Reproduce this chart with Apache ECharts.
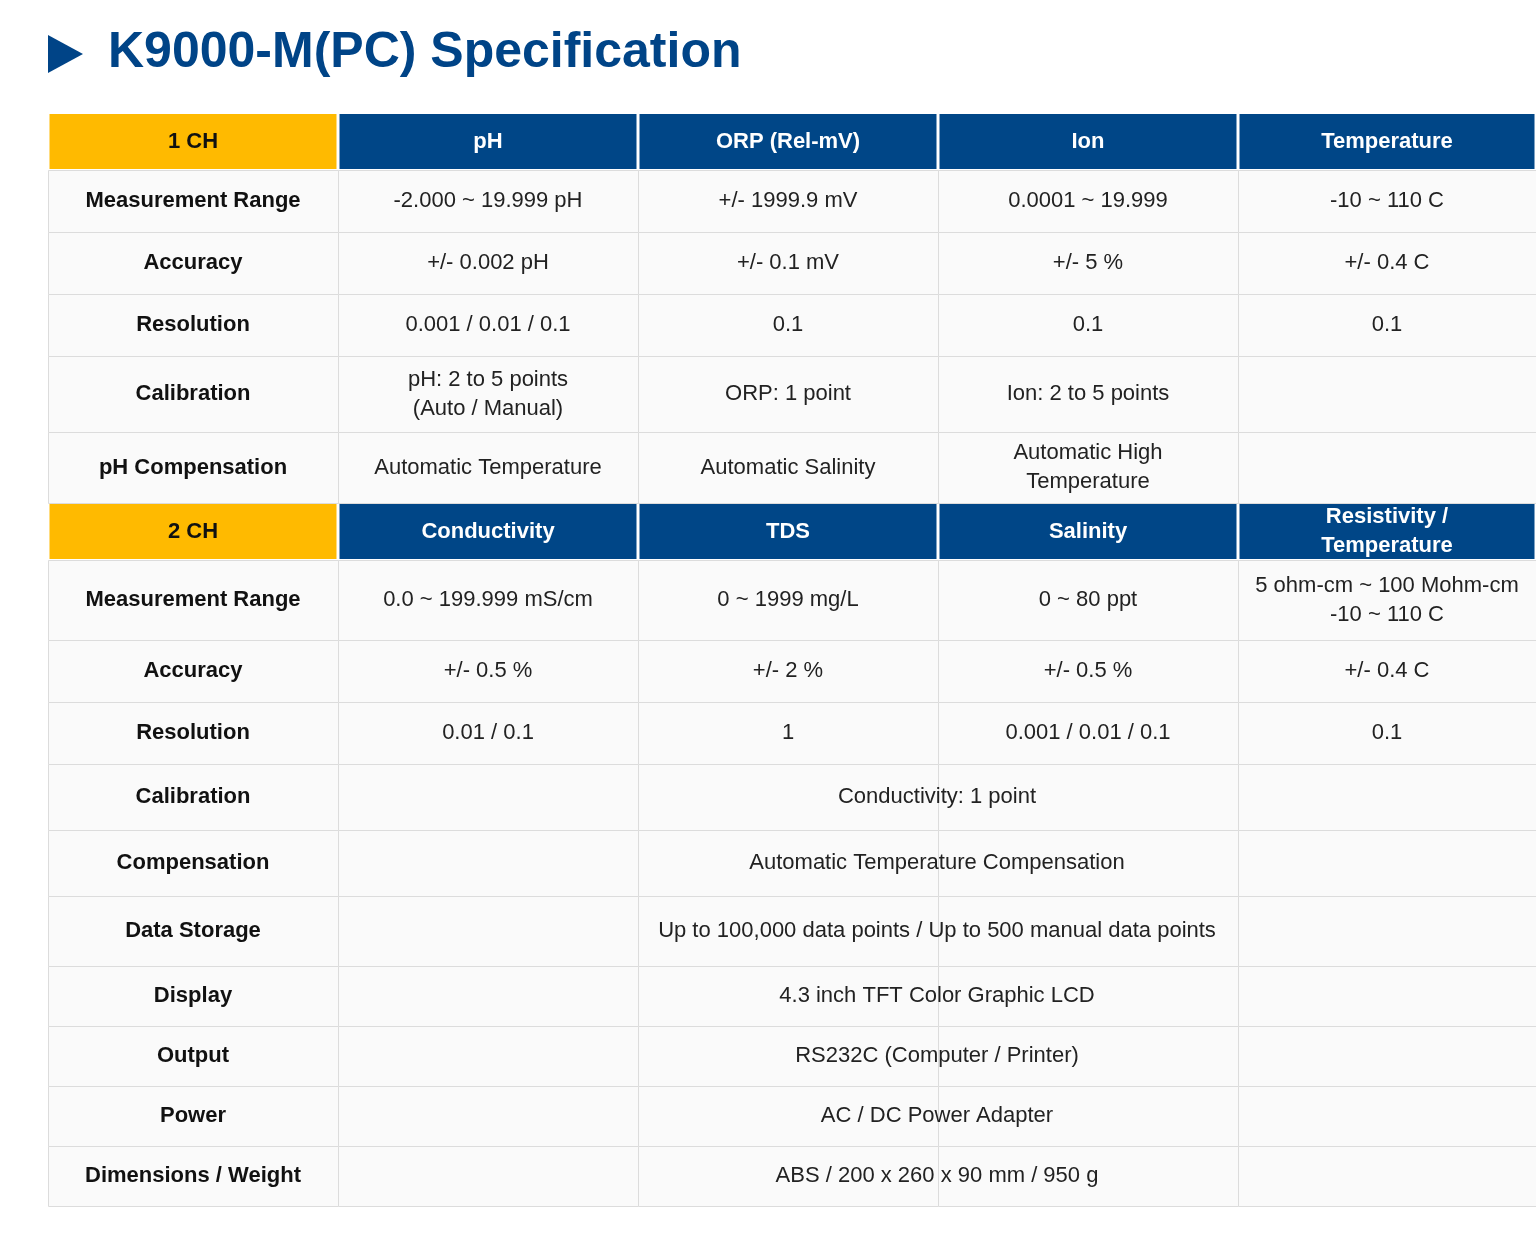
<!DOCTYPE html>
<html><head><meta charset="utf-8">
<script src="https://cdn.jsdelivr.net/npm/echarts@6/dist/echarts.min.js"></script>
<style>html,body{margin:0;padding:0;background:#fff}#c{width:1536px;height:1236px}</style>
</head><body><div id="c"></div>
<script>
const title = 'K9000-M(PC) Specification';
const header1 = ['1 CH', 'pH', 'ORP (Rel-mV)', 'Ion', 'Temperature'];
const rows1 = [
  ['Measurement Range', '-2.000 ~ 19.999 pH', '+/- 1999.9 mV', '0.0001 ~ 19.999', '-10 ~ 110 C'],
  ['Accuracy', '+/- 0.002 pH', '+/- 0.1 mV', '+/- 5 %', '+/- 0.4 C'],
  ['Resolution', '0.001 / 0.01 / 0.1', '0.1', '0.1', '0.1'],
  ['Calibration', 'pH: 2 to 5 points\n(Auto / Manual)', 'ORP: 1 point', 'Ion: 2 to 5 points', ''],
  ['pH Compensation', 'Automatic Temperature', 'Automatic Salinity', 'Automatic High\nTemperature', '']
];
const header2 = ['2 CH', 'Conductivity', 'TDS', 'Salinity', 'Resistivity /\nTemperature'];
const rows2 = [
  ['Measurement Range', '0.0 ~ 199.999 mS/cm', '0 ~ 1999 mg/L', '0 ~ 80 ppt', '5 ohm-cm ~ 100 Mohm-cm\n-10 ~ 110 C'],
  ['Accuracy', '+/- 0.5 %', '+/- 2 %', '+/- 0.5 %', '+/- 0.4 C'],
  ['Resolution', '0.01 / 0.1', '1', '0.001 / 0.01 / 0.1', '0.1'],
  ['Calibration', 'Conductivity: 1 point'],
  ['Compensation', 'Automatic Temperature Compensation'],
  ['Data Storage', 'Up to 100,000 data points / Up to 500 manual data points'],
  ['Display', '4.3 inch TFT Color Graphic LCD'],
  ['Output', 'RS232C (Computer / Printer)'],
  ['Power', 'AC / DC Power Adapter'],
  ['Dimensions / Weight', 'ABS / 200 x 260 x 90 mm / 950 g']
];

// layout (separate from data)
const tableLeft = 48, tableTop = 113;
const colWidths = [290, 300, 300, 300, 298];
const rowHeights1 = [57, 62, 62, 62, 76, 71];
const rowHeights2 = [57, 80, 62, 62, 66, 66, 70, 60, 60, 60, 60];

const colX = [tableLeft];
colWidths.forEach(w => colX.push(colX[colX.length - 1] + w));
const cells = [];
let y = tableTop;
function addBlock(header, rows, heights) {
  header.forEach((t, i) => cells.push([colX[i], y, colX[i + 1], y + heights[0], t, i === 0 ? 'hk' : 'hb']));
  y += heights[0];
  rows.forEach((r, ri) => {
    const h = heights[ri + 1];
    cells.push([colX[0], y, colX[1], y + h, r[0], 'lab']);
    for (let i = 1; i < 5; i++) {
      const span = r.length === 2;
      cells.push([colX[i], y, colX[i + 1], y + h, span ? '' : r[i], 'val']);
    }
    if (r.length === 2) cells.push([colX[1], y, colX[5], y + h, r[1], 'span']);
    y += h;
  });
}
addBlock(header1, rows1, rowHeights1);
addBlock(header2, rows2, rowHeights2);

const chart = echarts.init(document.getElementById('c'));
chart.setOption({
  animation: false,
  grid: {left: 0, right: 0, top: 0, bottom: 0},
  xAxis: {type: 'value', min: 0, max: 1536, show: false},
  yAxis: {type: 'value', min: 0, max: 1236, inverse: true, show: false},
  graphic: [
    {type: 'polygon', shape: {points: [[48, 35], [83, 54], [48, 73]]}, style: {fill: '#004487'}},
    {type: 'text', left: 108, top: 28, style: {text: title, font: 'bold 50px "Liberation Sans", Arial, sans-serif', fill: '#004487'}}
  ],
  series: [{
    type: 'custom',
    clip: false,
    data: cells,
    encode: {x: [0, 2], y: [1, 3]},
    renderItem: function (params, api) {
      const p0 = api.coord([api.value(0), api.value(1)]);
      const p1 = api.coord([api.value(2), api.value(3)]);
      const kind = cells[params.dataIndex][5];
      const text = cells[params.dataIndex][4];
      const w = p1[0] - p0[0], h = p1[1] - p0[1];
      const children = [];
      if (kind === 'hk' || kind === 'hb') {
        children.push({type: 'rect', shape: {x: p0[0] + 1.5, y: p0[1] + 1, width: w - 3, height: h - 2},
          style: {fill: kind === 'hk' ? '#FFBA00' : '#004687'}});
      } else if (kind !== 'span') {
        children.push({type: 'rect', shape: {x: p0[0] + 0.5, y: p0[1] + 0.5, width: w, height: h},
          style: {fill: '#fafafa', stroke: '#dcdcdc', lineWidth: 1}});
      }
      if (text) {
        const bold = kind === 'hk' || kind === 'hb' || kind === 'lab';
        children.push({type: 'text', style: {
          x: p0[0] + w / 2, y: p0[1] + h / 2, text: text, align: 'center', verticalAlign: 'middle',
          font: (bold ? 'bold ' : '') + '22px "Liberation Sans", Arial, sans-serif', lineHeight: 29,
          fill: kind === 'hb' ? '#ffffff' : (kind === 'hk' || kind === 'lab' ? '#111111' : '#222222')
        }, z2: 10});
      }
      return {type: 'group', children: children};
    }
  }]
});
</script></body></html>
